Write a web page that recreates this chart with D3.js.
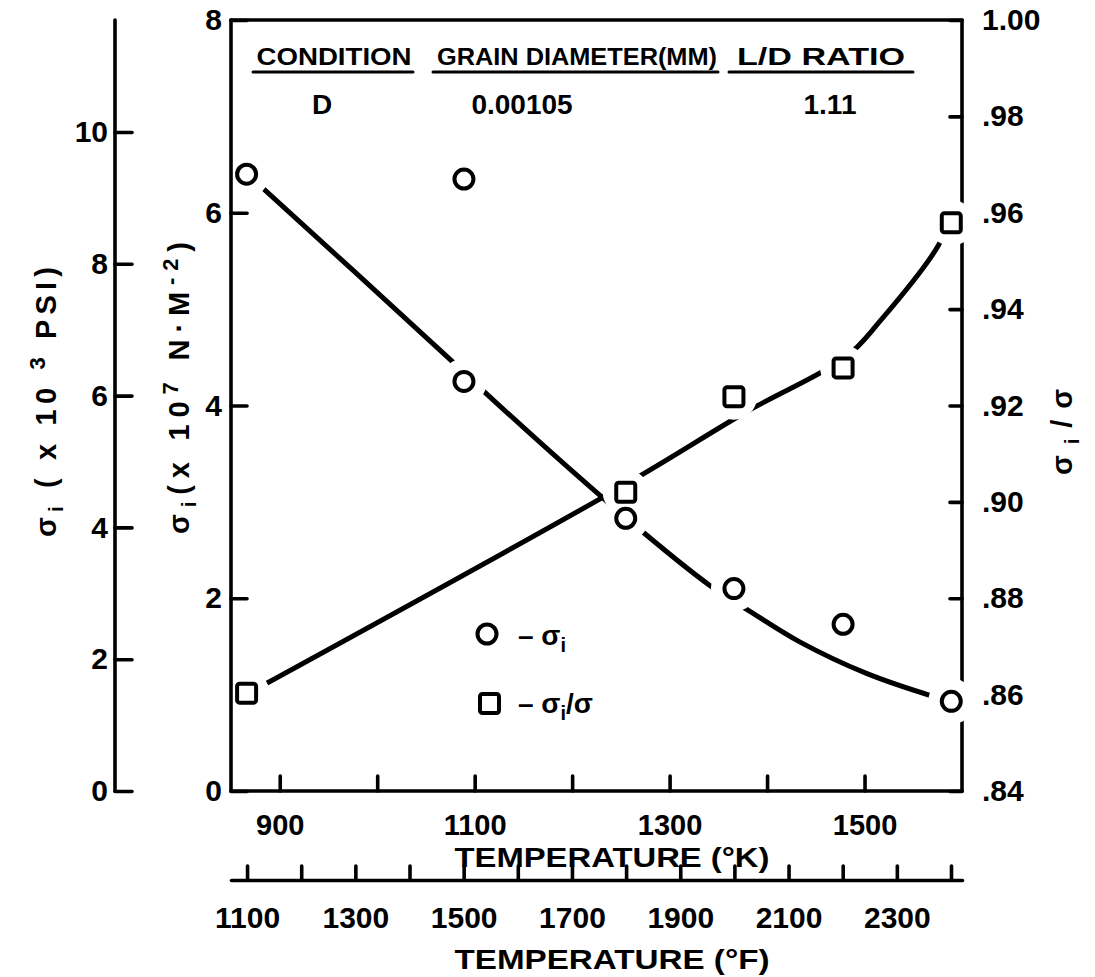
<!DOCTYPE html>
<html>
<head>
<meta charset="utf-8">
<script src="https://cdn.jsdelivr.net/npm/d3@7"></script>
<style>
  html, body { margin: 0; padding: 0; background: #fff; }
  svg { display: block; }
  text { font-family: "Liberation Sans", Arial, sans-serif; font-weight: bold; fill: #000; }
</style>
</head>
<body>
<svg id="chart" width="1095" height="977"></svg>
<script>
// σi measurements (open circles), temperature in K, σi in 10^7 N·m^-2
const sigmaTempK = [866, 1089, 1089, 1255, 1366, 1478, 1589];
const sigmaValues = [6.40, 6.35, 4.25, 2.83, 2.10, 1.73, 0.93];

// σi/σ measurements (open squares)
const ratioTempK = [866, 1255, 1366, 1478, 1589];
const ratioValues = [0.8603, 0.9020, 0.9218, 0.9278, 0.9579];

// faired curves through the data
const sigmaFitK = [867, 1080, 1108, 1257, 1343, 1380, 1433, 1502, 1571, 1589];
const sigmaFitValues = [6.40, 4.43, 4.16, 2.82, 2.12, 1.88, 1.55, 1.22, 0.98, 0.93];
const ratioFitK = [868, 1257, 1378, 1481, 1515, 1576, 1585];
const ratioFitValues = [0.8603, 0.9039, 0.9186, 0.9301, 0.9373, 0.9533, 0.9579];

// axis ticks and labels
const kelvinTicks = [900, 1000, 1100, 1200, 1300, 1400, 1500];
const kelvinLabels = [900, 1100, 1300, 1500];
const fahrTicks = [1100, 1200, 1300, 1400, 1500, 1600, 1700, 1800, 1900, 2000, 2100, 2200, 2300, 2400];
const fahrLabels = [1100, 1300, 1500, 1700, 1900, 2100, 2300];
const stressTicks = [0, 2, 4, 6, 8];
const psiTicks = [0, 2, 4, 6, 8, 10];
const ratioTicks = [0.84, 0.86, 0.88, 0.90, 0.92, 0.94, 0.96, 0.98, 1.00];

// specimen table
const headerTitles = ["CONDITION", "GRAIN DIAMETER(MM)", "L/D RATIO"];
const headerValues = ["D", "0.00105", "1.11"];

// ---- layout ----
const L = 231, R = 962, T = 20, B = 791;
const psiAxisX = 115;
const fAxisY = 880;
const AXIS_W = 3.6;

const svg = d3.select("#chart");

const x = d3.scaleLinear().domain([850, 1600]).range([L, R]);
const k2f = k => k * 9 / 5 - 459.67;
const xF = d3.scaleLinear().domain([k2f(850), k2f(1600)]).range([L, R]);
const y = d3.scaleLinear().domain([0, 8]).range([B, T]);
const yR = d3.scaleLinear().domain([0.84, 1.00]).range([B, T]);
const yP = d3.scaleLinear().domain([0, 11.7]).range([B, T]);

function styleAxis(g, size) {
  g.selectAll("line, path").attr("stroke", "#000").attr("stroke-width", AXIS_W).attr("stroke-linecap", "round");
  g.selectAll("text").attr("font-size", size).attr("font-family", null).attr("fill", "#000");
}

// ---- right axis (σi/σ), drawn under the symbol halos ----
const gRight = svg.append("g").attr("transform", `translate(${R},0)`)
  .call(d3.axisRight(yR).tickValues(ratioTicks).tickSizeInner(-12).tickSizeOuter(0).tickPadding(20)
    .tickFormat(v => v >= 0.999 ? "1.00" : d3.format(".2f")(v).replace(/^0/, "")));
gRight.select(".domain").remove();
styleAxis(gRight, 30);
svg.append("line").attr("x1", R).attr("x2", R).attr("y1", T).attr("y2", B)
  .attr("stroke", "#000").attr("stroke-width", AXIS_W).attr("stroke-linecap", "round");
svg.append("line").attr("x1", L).attr("x2", R).attr("y1", T).attr("y2", T)
  .attr("stroke", "#000").attr("stroke-width", AXIS_W).attr("stroke-linecap", "round");

// ---- faired curves ----
const sigmaLine = d3.line().x(d => x(d[0])).y(d => y(d[1])).curve(d3.curveCatmullRom.alpha(0.5));
const ratioLine = d3.line().x(d => x(d[0])).y(d => yR(d[1])).curve(d3.curveCatmullRom.alpha(0.5));

svg.append("path").datum(d3.zip(sigmaFitK, sigmaFitValues)).attr("d", sigmaLine)
  .attr("fill", "none").attr("stroke", "#000").attr("stroke-width", 5).attr("stroke-linecap", "round");
svg.append("path").datum(d3.zip(ratioFitK, ratioFitValues)).attr("d", ratioLine)
  .attr("fill", "none").attr("stroke", "#000").attr("stroke-width", 5).attr("stroke-linecap", "round");

// ---- white halos break the lines around each symbol ----
const sigmaPts = d3.zip(sigmaTempK, sigmaValues).map(d => [x(d[0]), y(d[1])]);
const ratioPts = d3.zip(ratioTempK, ratioValues).map(d => [x(d[0]), yR(d[1])]);
svg.append("g").selectAll("circle").data(sigmaPts.concat(ratioPts)).join("circle")
  .attr("cx", d => d[0]).attr("cy", d => d[1]).attr("r", 23).attr("fill", "#fff");

// ---- symbols ----
svg.append("g").selectAll("circle").data(sigmaPts).join("circle")
  .attr("cx", d => d[0]).attr("cy", d => d[1]).attr("r", 9.5)
  .attr("fill", "#fff").attr("stroke", "#000").attr("stroke-width", 4);
svg.append("g").selectAll("rect").data(ratioPts).join("rect")
  .attr("x", d => d[0] - 9.5).attr("y", d => d[1] - 9.5).attr("width", 19).attr("height", 19).attr("rx", 2.5)
  .attr("fill", "#fff").attr("stroke", "#000").attr("stroke-width", 4);

// ---- left stress axis (10^7 N·m^-2) ----
const gLeft = svg.append("g").attr("transform", `translate(${L},0)`)
  .call(d3.axisLeft(y).tickValues(stressTicks).tickSizeInner(-16).tickSizeOuter(0).tickPadding(9));
gLeft.select(".domain").remove();
styleAxis(gLeft, 30);
svg.append("line").attr("x1", L).attr("x2", L).attr("y1", T).attr("y2", B)
  .attr("stroke", "#000").attr("stroke-width", AXIS_W).attr("stroke-linecap", "round");

// ---- outer stress axis (10^3 psi) ----
const gPsi = svg.append("g").attr("transform", `translate(${psiAxisX},0)`)
  .call(d3.axisLeft(yP).tickValues(psiTicks).tickSizeInner(-17).tickSizeOuter(0).tickPadding(7));
gPsi.select(".domain").remove();
styleAxis(gPsi, 30);
svg.append("line").attr("x1", psiAxisX).attr("x2", psiAxisX).attr("y1", T).attr("y2", B)
  .attr("stroke", "#000").attr("stroke-width", AXIS_W).attr("stroke-linecap", "round");

// ---- bottom temperature axis (K) ----
const gK = svg.append("g").attr("transform", `translate(0,${B})`)
  .call(d3.axisBottom(x).tickValues(kelvinTicks).tickSizeInner(-15).tickSizeOuter(0)
    .tickFormat(v => kelvinLabels.includes(v) ? String(v) : ""));
gK.select(".domain").remove();
styleAxis(gK, 29);
gK.selectAll("text").attr("y", 44).attr("dy", null);
svg.append("line").attr("x1", L).attr("x2", R).attr("y1", B).attr("y2", B)
  .attr("stroke", "#000").attr("stroke-width", AXIS_W).attr("stroke-linecap", "round");

// ---- second temperature axis (°F) ----
const gF = svg.append("g").attr("transform", `translate(0,${fAxisY})`)
  .call(d3.axisBottom(xF).tickValues(fahrTicks).tickSizeInner(-14).tickSizeOuter(0)
    .tickFormat(v => fahrLabels.includes(v) ? String(v) : ""));
styleAxis(gF, 30);
gF.selectAll("text").attr("y", 48).attr("dy", null);

// ---- axis titles ----
svg.append("text").attr("x", 612).attr("y", 867).attr("text-anchor", "middle")
  .attr("font-size", 27).attr("textLength", 315).attr("lengthAdjust", "spacingAndGlyphs")
  .text("TEMPERATURE (°K)");
svg.append("text").attr("x", 612).attr("y", 969).attr("text-anchor", "middle")
  .attr("font-size", 28).attr("textLength", 315).attr("lengthAdjust", "spacingAndGlyphs")
  .text("TEMPERATURE (°F)");

function rotatedTitle(cx, cy, len, parts) {
  const t = svg.append("text").attr("transform", `translate(${cx},${cy}) rotate(-90)`)
    .attr("text-anchor", "middle").attr("font-size", 29)
    .attr("textLength", len).attr("lengthAdjust", "spacing");
  parts.forEach(p => {
    const ts = t.append("tspan").text(p.s);
    if (p.dy) ts.attr("dy", p.dy);
    if (p.size) ts.attr("font-size", p.size);
  });
  return t;
}
rotatedTitle(56, 402, 270, [
  { s: "σ" }, { s: "i", dy: 7, size: 20 }, { s: " ( x 10 ", dy: -7 },
  { s: "3", dy: -11, size: 22 }, { s: " PSI)", dy: 11 }
]);
rotatedTitle(189, 388, 292, [
  { s: "σ" }, { s: "i", dy: 7, size: 20 }, { s: "(x 10", dy: -7 },
  { s: "7", dy: -11, size: 22 }, { s: " N·M", dy: 11 },
  { s: "-2", dy: -11, size: 22 }, { s: ")", dy: 11 }
]);
rotatedTitle(1072, 432, 86, [
  { s: "σ" }, { s: "i", dy: 7, size: 20 }, { s: "/σ", dy: -7 }
]);

// ---- specimen table ----
const headerLayout = [
  { cx: 334, w: 155, ul: [253, 413] },
  { cx: 577, w: 280, ul: [433, 718] },
  { cx: 821, w: 168, ul: [729, 913] }
];
headerTitles.forEach((s, i) => {
  const h = headerLayout[i];
  svg.append("text").attr("x", h.cx).attr("y", 65).attr("text-anchor", "middle")
    .attr("font-size", 24).attr("textLength", h.w).attr("lengthAdjust", "spacingAndGlyphs").text(s);
  svg.append("line").attr("x1", h.ul[0]).attr("x2", h.ul[1]).attr("y1", 72).attr("y2", 72)
    .attr("stroke", "#000").attr("stroke-width", 3).attr("stroke-linecap", "round");
});
const valueCx = [322, 522, 830];
headerValues.forEach((s, i) => {
  svg.append("text").attr("x", valueCx[i]).attr("y", 114).attr("text-anchor", "middle")
    .attr("font-size", 28).text(s);
});

// ---- legend ----
const legend = svg.append("g");
legend.append("circle").attr("cx", 487).attr("cy", 634).attr("r", 9.5)
  .attr("fill", "#fff").attr("stroke", "#000").attr("stroke-width", 4);
legend.append("rect").attr("x", 480).attr("y", 694).attr("width", 19).attr("height", 19).attr("rx", 2.5)
  .attr("fill", "#fff").attr("stroke", "#000").attr("stroke-width", 4);
const lg1 = legend.append("text").attr("x", 518).attr("y", 645).attr("font-size", 28);
lg1.append("tspan").text("–  σ");
lg1.append("tspan").attr("dy", 7).attr("font-size", 20).text("i");
const lg2 = legend.append("text").attr("x", 518).attr("y", 713).attr("font-size", 28);
lg2.append("tspan").text("–  σ");
lg2.append("tspan").attr("dy", 7).attr("font-size", 20).text("i");
lg2.append("tspan").attr("dy", -7).text("/σ");
</script>
</body>
</html>
